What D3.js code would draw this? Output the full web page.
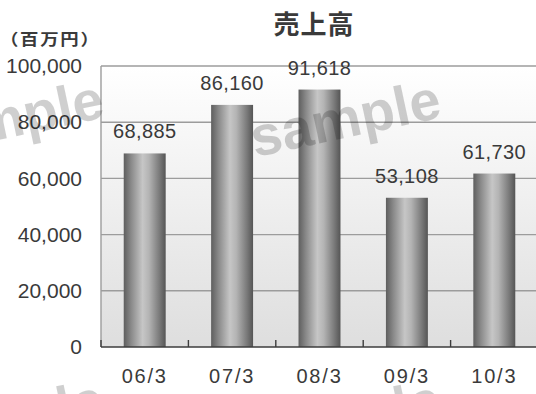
<!DOCTYPE html>
<html>
<head>
<meta charset="utf-8">
<script src="https://cdn.jsdelivr.net/npm/d3@7/dist/d3.min.js"></script>
<style>
  html, body { margin: 0; padding: 0; background: #fff; }
  svg { display: block; }
  text { font-family: "Liberation Sans", Arial, sans-serif; fill: #3a3a3a; }
  .jp { font-family: "Noto Sans CJK JP", sans-serif; font-weight: 700; }
</style>
</head>
<body>
<svg id="chart" width="536" height="394"></svg>
<script>
// 売上高（百万円）
const categories = ["06/3", "07/3", "08/3", "09/3", "10/3"];
const sales = [68885, 86160, 91618, 53108, 61730];
const yTicks = [0, 20000, 40000, 60000, 80000, 100000];

const W = 536, H = 394;
const plot = { left: 101, right: 538, top: 66, bottom: 347 };

const svg = d3.select("#chart");
const defs = svg.append("defs");

const bg = defs.append("linearGradient").attr("id", "plotBg")
  .attr("x1", 0).attr("y1", 0).attr("x2", 0).attr("y2", 1);
bg.append("stop").attr("offset", "0%").attr("stop-color", "#ffffff");
bg.append("stop").attr("offset", "100%").attr("stop-color", "#dedede");

const barGrad = defs.append("linearGradient").attr("id", "barGrad")
  .attr("x1", 0).attr("y1", 0).attr("x2", 1).attr("y2", 0);
[["0%", "#5e5e5e"], ["18%", "#8a8a8a"], ["45%", "#c6c6c6"], ["60%", "#b4b4b4"], ["85%", "#7a7a7a"], ["100%", "#555555"]]
  .forEach(([o, c]) => barGrad.append("stop").attr("offset", o).attr("stop-color", c));

const x = d3.scaleBand().domain(categories).range([plot.left, plot.right]).padding(0);
const y = d3.scaleLinear().domain([0, 100000]).range([plot.bottom, plot.top]);
const barW = x.bandwidth() * 0.48;

// plot background
svg.append("rect")
  .attr("x", plot.left).attr("y", plot.top)
  .attr("width", plot.right - plot.left).attr("height", plot.bottom - plot.top)
  .attr("fill", "url(#plotBg)");

// gridlines
svg.append("g").selectAll("line").data(yTicks.filter(d => d > 0)).join("line")
  .attr("x1", plot.left).attr("x2", W)
  .attr("y1", d => y(d)).attr("y2", d => y(d))
  .attr("stroke", "#9c9c9c").attr("stroke-width", 1.4);

// left frame
svg.append("line")
  .attr("x1", plot.left).attr("x2", plot.left)
  .attr("y1", plot.top).attr("y2", plot.bottom)
  .attr("stroke", "#9c9c9c").attr("stroke-width", 1.4);

// bars
svg.append("g").selectAll("rect").data(categories).join("rect")
  .attr("x", (d) => x(d) + (x.bandwidth() - barW) / 2)
  .attr("y", (d, i) => y(sales[i]))
  .attr("width", barW)
  .attr("height", (d, i) => y(0) - y(sales[i]))
  .attr("fill", "url(#barGrad)");

// value labels
const fmt = d3.format(",");
svg.append("g").selectAll("text").data(categories).join("text")
  .attr("x", d => x(d) + x.bandwidth() / 2)
  .attr("y", (d, i) => y(sales[i]) - 15)
  .attr("text-anchor", "middle")
  .attr("font-size", 20)
  .style("letter-spacing", "0.4px")
  .text((d, i) => fmt(sales[i]));

// baseline with inward ticks at band boundaries
svg.append("line")
  .attr("x1", plot.left).attr("x2", W)
  .attr("y1", plot.bottom).attr("y2", plot.bottom)
  .attr("stroke", "#3c3c3c").attr("stroke-width", 1.6);
svg.append("g").selectAll("line").data(categories).join("line")
  .attr("x1", d => x(d)).attr("x2", d => x(d))
  .attr("y1", plot.bottom).attr("y2", plot.bottom - 7)
  .attr("stroke", "#3c3c3c").attr("stroke-width", 1.4);

// y axis labels
const yAxis = svg.append("g")
  .attr("transform", `translate(${plot.left},0)`)
  .call(d3.axisLeft(y).tickValues(yTicks).tickSize(0).tickPadding(19).tickFormat(fmt));
yAxis.select(".domain").remove();
yAxis.selectAll("text").attr("font-size", 21).attr("font-family", null).style("fill", "#3a3a3a");

// x axis labels
const xAxis = svg.append("g")
  .attr("transform", `translate(0,${plot.bottom})`)
  .call(d3.axisBottom(x).tickSize(0).tickPadding(22));
xAxis.select(".domain").remove();
xAxis.selectAll("text").attr("font-size", 20).attr("font-family", null)
  .style("letter-spacing", "1.8px").style("fill", "#3a3a3a");

// title and unit
svg.append("text").attr("class", "jp")
  .attr("x", 314).attr("y", 34).attr("text-anchor", "middle")
  .attr("font-size", 26).style("letter-spacing", "1px").text("売上高");
svg.append("text").attr("class", "jp")
  .attr("transform", "translate(0,45) scale(1.15,1)")
  .attr("font-size", 16).style("letter-spacing", "1.5px").text("（百万円）");

// tiled "sample" stamp over the chart
const stamp = svg.append("g").attr("pointer-events", "none");
[[8, 118], [345, 118], [8, 418], [345, 418]].forEach(([cx, cy]) => {
  stamp.append("text")
    .attr("transform", `translate(${cx},${cy}) rotate(-12)`)
    .attr("text-anchor", "middle")
    .attr("dy", "0.35em")
    .attr("font-size", 56).attr("font-weight", 700)
    .style("fill", "#000").style("fill-opacity", 0.19)
    .text("sample");
});
</script>
</body>
</html>
